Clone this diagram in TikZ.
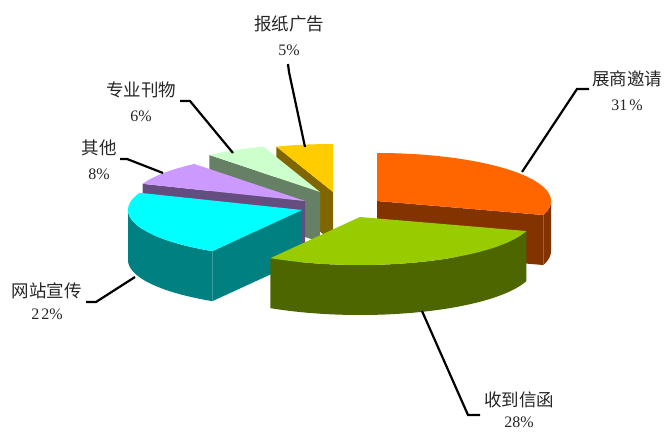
\documentclass[tikz,border=0pt]{standalone}
\usepackage{fontspec}
\setmainfont{Liberation Serif}
\newfontfamily\cjk{Noto Sans CJK SC}
\newcommand\cj[1]{{\cjk\fontsize{17.5}{25}\selectfont #1}}
\definecolor{orT}{HTML}{FF6600}\definecolor{orS}{HTML}{833300}
\definecolor{grT}{HTML}{99CC00}\definecolor{grS}{HTML}{4D6600}
\definecolor{tlT}{HTML}{00FFFF}\definecolor{tlS}{HTML}{008080}
\definecolor{puT}{HTML}{CC99FF}\definecolor{puS}{HTML}{664D80}
\definecolor{lgT}{HTML}{CCFFCC}\definecolor{lgS}{HTML}{668066}
\definecolor{ylT}{HTML}{FFCC00}\definecolor{ylS}{HTML}{806600}
\newcommand\slTop[5]{%
  \fill[#5] ({#1},{#2}) -- plot[domain=#3:#4,samples=60,variable=\q] ({#1+\rx*sin(\q)},{#2-\ry*cos(\q)}) -- cycle;}
\newcommand\slSide[5]{%
  \fill[#5] plot[domain=#3:#4,samples=60,variable=\q] ({#1+\rx*sin(\q)},{#2-\ry*cos(\q)})
    -- plot[domain=#4:#3,samples=60,variable=\q] ({#1+\rx*sin(\q)},{#2-\ry*cos(\q)+\hh}) -- cycle;}
\newcommand\slFace[4]{%
  \fill[#4] ({#1},{#2}) -- ({#1+\rx*sin(#3)},{#2-\ry*cos(#3)}) -- ++(0,\hh) -- ({#1},{#2+\hh}) -- cycle;}
\begin{document}
\begin{tikzpicture}[x=1pt,y=-1pt,
  lbl/.style={align=center,text=black!85,inner sep=0pt,font=\fontsize{16}{25}\selectfont},
  leader/.style={line width=2.2pt,black}]
\useasboundingbox (0,0) rectangle (665,433);
\def\rx{174}\def\ry{48}\def\hh{50}
% yellow 报纸广告
\slFace{333}{192}{341}{ylS}
\slTop{333}{192}{341}{360}{ylT}
% light green 专业刊物
\slFace{320}{192}{320.5}{lgS}
\slTop{320}{192}{320.5}{341}{lgT}
% purple 其他
\slFace{305}{201}{291}{puS}
\slTop{305}{201}{291}{320.5}{puT}
% orange 展商邀请
\slFace{377}{201}{107}{orS}
\slSide{377}{201}{90}{107}{orS}
\slTop{377}{201}{0}{107}{orT}
% teal 网站宣传
\slFace{302}{210}{211}{tlS}
\slSide{302}{210}{211}{270}{tlS}
\slTop{302}{210}{211}{291}{tlT}
% green 收到信函
\slSide{360}{217}{107}{211}{grS}
\slTop{360}{217}{107}{211}{grT}

% labels
\node[lbl] (l5) at (289,36) {\cj{报纸广告}\\5\%};
\node[lbl] (l6) at (141,102) {\cj{专业刊物}\\6\%};
\node[lbl] (l8) at (99,160) {\cj{其他}\\8\%};
\node[lbl] (l22) at (47,301) {\cj{网站宣传}\\[-3pt]2\kern2pt2\%};
\node[lbl] (l28) at (519,410) {\cj{收到信函}\\[-4pt]28\%};
\node[lbl] (l31) at (627,91) {\cj{展商邀请}\\31\kern2pt\%};

% leader end points
\coordinate (a5) at (288,64);  \coordinate (b5) at (289,72);  \coordinate (p5) at (305,147);
\coordinate (a6) at (180,101); \coordinate (b6) at (190,101); \coordinate (p6) at (233,153);
\coordinate (a8) at (120,159); \coordinate (b8) at (127,159); \coordinate (p8) at (163,173);
\coordinate (a22) at (86,302); \coordinate (b22) at (96,302); \coordinate (p22) at (135,277);
\coordinate (a28) at (480,415); \coordinate (b28) at (468,415); \coordinate (p28) at (422,311);
\coordinate (a31) at (589,89); \coordinate (b31) at (577,89); \coordinate (p31) at (522,172);
\draw[leader] (a5) -- (b5) -- (p5);
\draw[leader] (a6) -- (b6) -- (p6);
\draw[leader] (a8) -- (b8) -- (p8);
\draw[leader] (a22) -- (b22) -- (p22);
\draw[leader] (a28) -- (b28) -- (p28);
\draw[leader] (a31) -- (b31) -- (p31);
\end{tikzpicture}
\end{document}
